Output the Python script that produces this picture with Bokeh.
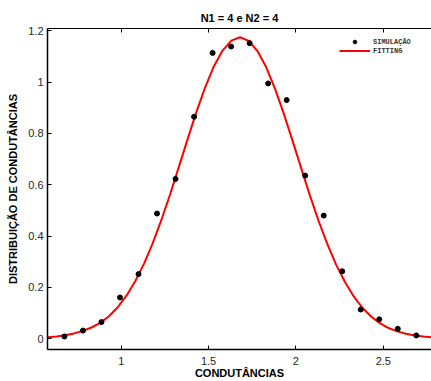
from bokeh.plotting import figure
from bokeh.models import Range1d, FixedTicker, LinearAxis, Legend, LegendItem
from bokeh.embed import file_html
from bokeh.resources import INLINE

# ---- data ----
sim_x = [0.675, 0.781, 0.887, 0.993, 1.099, 1.205, 1.311, 1.417, 1.523, 1.629,
         1.735, 1.841, 1.947, 2.053, 2.159, 2.265, 2.371, 2.477, 2.583, 2.689]
sim_y = [0.009, 0.032, 0.065, 0.161, 0.252, 0.488, 0.623, 0.865, 1.114, 1.139,
         1.152, 0.995, 0.930, 0.636, 0.480, 0.263, 0.114, 0.076, 0.039, 0.013]

fit_x = [0.58, 0.63, 0.68, 0.73, 0.78, 0.83, 0.88, 0.93, 0.98, 1.03, 1.08, 1.13,
         1.18, 1.23, 1.28, 1.33, 1.38, 1.43, 1.48, 1.53, 1.58, 1.63, 1.68, 1.73,
         1.78, 1.83, 1.88, 1.93, 1.98, 2.03, 2.08, 2.13, 2.18, 2.23, 2.28, 2.33,
         2.38, 2.43, 2.48, 2.53, 2.58, 2.63, 2.68, 2.73, 2.78]
fit_y = [0.006, 0.009, 0.014, 0.021, 0.031, 0.044, 0.062, 0.088, 0.123, 0.168,
         0.224, 0.292, 0.372, 0.463, 0.563, 0.670, 0.778, 0.883, 0.979, 1.061,
         1.123, 1.162, 1.175, 1.161, 1.121, 1.058, 0.975, 0.878, 0.773, 0.665,
         0.559, 0.459, 0.369, 0.289, 0.222, 0.166, 0.121, 0.087, 0.061, 0.042,
         0.029, 0.020, 0.013, 0.009, 0.006]

x_ticks = [1, 1.5, 2, 2.5]
x_tick_labels = ["1", "1.5", "2", "2.5"]
y_ticks = [0, 0.2, 0.4, 0.6, 0.8, 1, 1.2]
y_tick_labels = ["0", "0.2", "0.4", "0.6", "0.8", "1", "1.2"]

title = "N1 = 4 e N2 = 4"
x_label = "CONDUTÂNCIAS"
y_label = "DISTRIBUIÇÃO DE CONDUTÂNCIAS"
legend_labels = ["SIMULAÇÃO", "FITTING"]

# ---- figure ----
p = figure(width=431, height=381, output_backend="svg", toolbar_location=None,
           x_range=Range1d(0.578, 2.776), y_range=Range1d(-0.0417, 1.209),
           min_border_left=47, min_border_right=0, min_border_top=28,
           min_border_bottom=32)
p.title.text = title
p.title.text_font = "Liberation Sans"
p.title.text_font_size = "11px"
p.title.text_font_style = "bold"
p.title.align = "center"
p.title.text_color = "#000000"
p.xgrid.visible = False
p.ygrid.visible = False
p.outline_line_color = None
p.background_fill_color = "white"
p.border_fill_color = "white"

def style_axis(ax, ticks, labels):
    ax.ticker = FixedTicker(ticks=ticks)
    ax.major_label_overrides = {t: l for t, l in zip(ticks, labels)}
    ax.minor_tick_line_color = None
    ax.major_tick_in = 4
    ax.major_tick_out = 0
    ax.axis_line_color = "black"
    ax.major_tick_line_color = "black"
    ax.major_label_text_font = "Liberation Sans"
    ax.major_label_text_font_size = "11px"
    ax.major_label_text_color = "#262626"
    ax.axis_label_text_font = "Liberation Sans"
    ax.axis_label_text_font_size = "11px"
    ax.axis_label_text_font_style = "bold"
    ax.axis_label_text_color = "#000000"

xa = p.xaxis[0]
style_axis(xa, x_ticks, x_tick_labels)
xa.axis_label = x_label
xa.axis_line_width = 1.5
xa.major_label_standoff = 7
xa.axis_label_standoff = -1

ya = p.yaxis[0]
style_axis(ya, y_ticks, y_tick_labels)
ya.axis_label = y_label
ya.axis_line_width = 1.5
ya.major_label_standoff = 4
ya.axis_label_standoff = 6

top = LinearAxis()
style_axis(top, x_ticks, x_tick_labels)
top.major_label_text_color = None
top.major_label_standoff = 0
p.add_layout(top, "above")

r_fit = p.line(fit_x, fit_y, line_color="#ff0000", line_width=2)
r_sim = p.scatter(sim_x, sim_y, size=5, fill_color="black", line_color="black")

legend = Legend(items=[LegendItem(label=legend_labels[0], renderers=[r_sim]),
                       LegendItem(label=legend_labels[1], renderers=[r_fit])],
                location=(292, 294))
legend.padding = 0
legend.spacing = 0
legend.margin = 0
legend.glyph_height = 9
legend.label_height = 9
legend.glyph_width = 31
legend.label_standoff = 3
legend.border_line_color = None
legend.background_fill_alpha = 0
legend.label_text_font = "Liberation Mono"
legend.label_text_font_size = "7px"
legend.label_text_font_style = "bold"
legend.label_text_color = "#333333"
p.add_layout(legend)

open("out.html", "w").write(file_html(p, INLINE))
